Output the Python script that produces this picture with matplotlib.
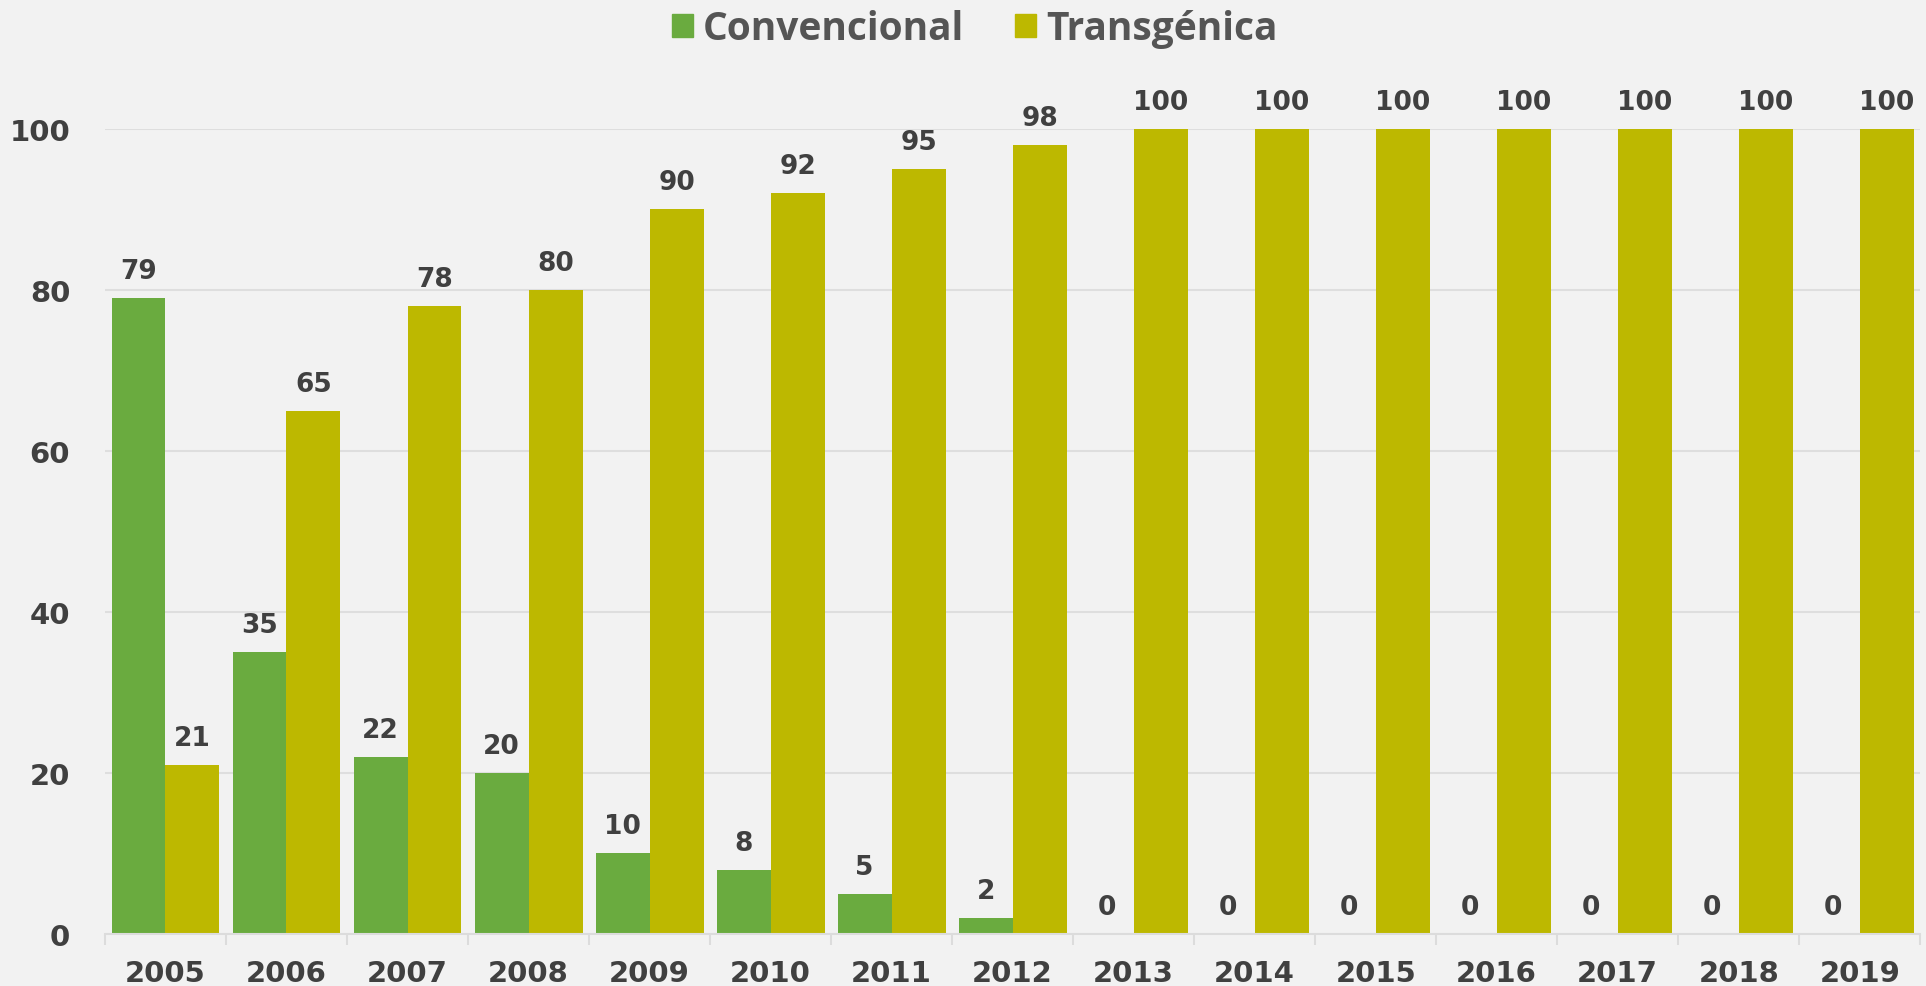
import numpy as np
import matplotlib.pyplot as plt
from matplotlib.patches import Patch

years = ['2005', '2006', '2007', '2008', '2009', '2010', '2011', '2012',
         '2013', '2014', '2015', '2016', '2017', '2018', '2019']
convencional = [79, 35, 22, 20, 10, 8, 5, 2, 0, 0, 0, 0, 0, 0, 0]
transgenica = [21, 65, 78, 80, 90, 92, 95, 98, 100, 100, 100, 100, 100, 100, 100]

green = '#6aab3f'
yellow = '#bdb800'
bg = '#f2f2f2'
txt = '#404040'

fig = plt.figure(figsize=(19.26, 9.87), dpi=100, facecolor=bg)
ax = fig.add_axes([0.0545, 0.0527, 0.9425, 0.8156], facecolor=bg)

x = np.arange(len(years))
w = 0.446
b1 = ax.bar(x - w / 2, convencional, w, color=green, label='Convencional')
b2 = ax.bar(x + w / 2, transgenica, w, color=yellow, label='Transgénica')

# value labels above each bar
for bars in (b1, b2):
    for r in bars:
        ax.annotate(f'{r.get_height():.0f}',
                    (r.get_x() + r.get_width() / 2, r.get_height()),
                    xytext=(0, 27), textcoords='offset pixels',
                    ha='center', va='center', fontsize=19, fontweight='bold',
                    color=txt, annotation_clip=False)

ax.set_xlim(-0.5, len(years) - 0.5)
ax.set_ylim(0, 100)
ax.set_yticks([0, 20, 40, 60, 80, 100])
ax.set_xticks(x)
ax.set_xticklabels(years)
ax.set_xticks(np.arange(len(years) + 1) - 0.5, minor=True)
ax.tick_params(axis='x', which='major', length=0, pad=18)
ax.tick_params(axis='x', which='minor', length=8, color='#dcdcdc', width=1.5)
ax.tick_params(axis='y', length=0, pad=25)
for lab in ax.get_xticklabels() + ax.get_yticklabels():
    lab.set_fontsize(21)
    lab.set_fontweight('bold')
    lab.set_color(txt)

ax.grid(axis='y', color='#dedede', linewidth=1.5)
ax.set_axisbelow(True)
for s in ['top', 'right', 'left']:
    ax.spines[s].set_visible(False)
ax.spines['bottom'].set_color('#dcdcdc')
ax.spines['bottom'].set_linewidth(1.5)

handles = [Patch(color=green), Patch(color=yellow)]
fig.legend(handles, ['Convencional', 'Transgénica'], loc='center',
           bbox_to_anchor=(0.506, 0.97), ncol=2, frameon=False,
           prop={'family': 'Open Sans', 'weight': 'bold', 'size': 28},
           labelcolor='#555555', handlelength=0.55, handleheight=0.55,
           handletextpad=0.25, columnspacing=1.3)

fig.savefig('out.png', dpi=100, facecolor=bg)
